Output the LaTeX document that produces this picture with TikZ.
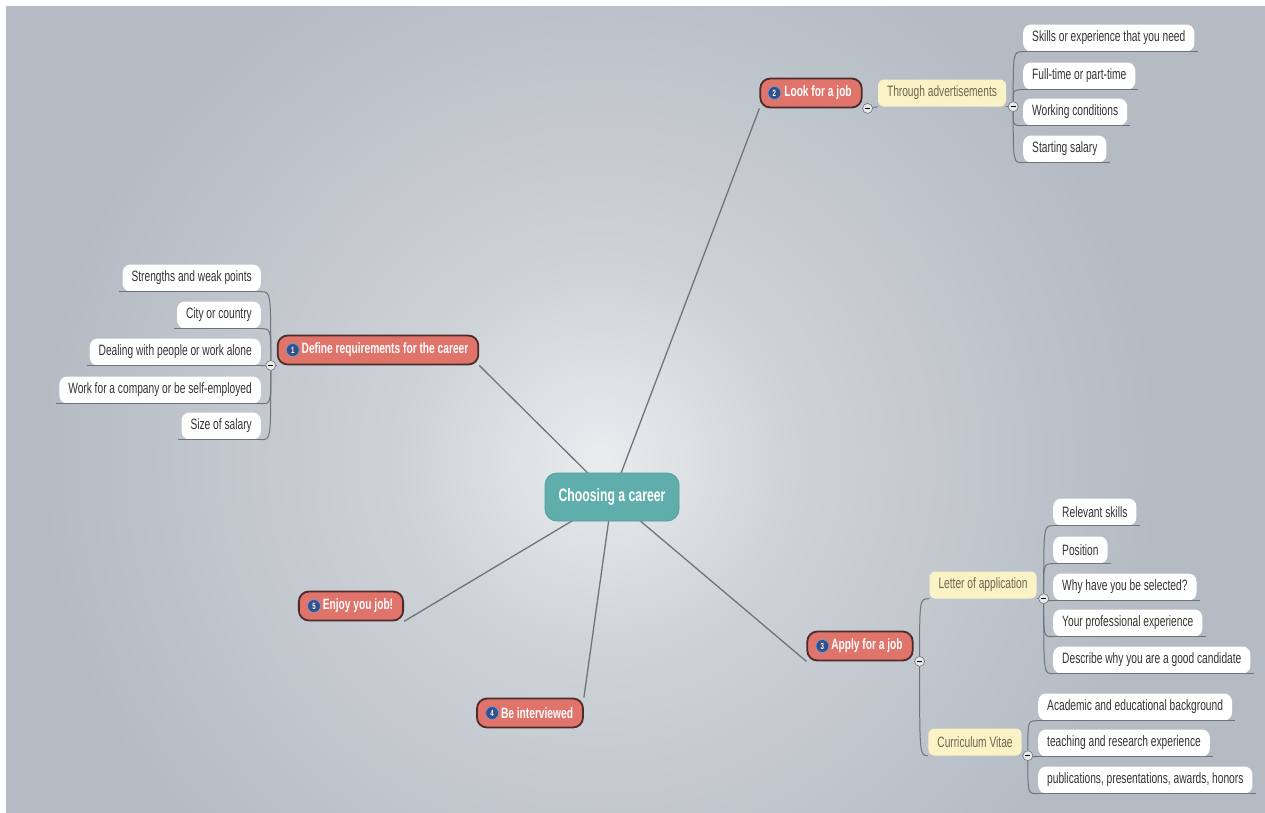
\documentclass[tikz,border=0pt]{standalone}
\usepackage{fontspec}
\setmainfont{Liberation Sans}[FakeStretch=0.68]
\usetikzlibrary{backgrounds,calc}
\definecolor{bg}{HTML}{B4BBC3}
\definecolor{bgmid}{HTML}{CDD2D7}
\definecolor{bglight}{HTML}{EAECEE}
\definecolor{mainfill}{HTML}{E0736A}
\definecolor{mainborder}{HTML}{4A2C2C}
\definecolor{centerfill}{HTML}{5FAEAB}
\definecolor{centerborder}{HTML}{4F9D9A}
\definecolor{yel}{HTML}{FBF2C6}
\definecolor{yeltext}{HTML}{6A6650}
\definecolor{leaftext}{HTML}{333333}
\definecolor{conn}{HTML}{6E747C}
\definecolor{badgefill}{HTML}{33508A}
\definecolor{badgering}{HTML}{7C97C8}
\definecolor{minusfill}{HTML}{E6E8EA}
\pgfdeclareradialshading{bgshade}{\pgfpoint{0bp}{0bp}}{color(0bp)=(bglight); color(9bp)=(bgmid); color(25bp)=(bg); color(50bp)=(bg)}
\begin{document}
\begin{tikzpicture}[x=1pt,y=-1pt,
  centernode/.style={draw=centerborder, line width=0.8pt, fill=centerfill, rounded corners=12pt,
    text=white, font=\bfseries\fontsize{18}{20}\selectfont, minimum width=134pt, minimum height=48pt},
  mainnode/.style={draw=mainborder, line width=1.8pt, fill=mainfill, rounded corners=10pt,
    text=white, font=\bfseries\fontsize{15}{17}\selectfont, minimum height=29pt, inner xsep=10pt, inner ysep=0pt},
  subnode/.style={fill=yel, rounded corners=6pt, text=yeltext, font=\fontsize{15}{17}\selectfont,
    minimum height=27pt, inner xsep=9pt, inner ysep=0pt},
  leaf/.style={fill=white, rounded corners=8pt, text=leaftext, font=\fontsize{15}{17}\selectfont,
    minimum height=27pt, inner xsep=9pt, inner ysep=0pt},
  bdg/.style={circle, fill=badgefill, draw=badgering, line width=0.8pt, minimum size=13pt, inner sep=0pt,
    text=white, font=\bfseries\fontsize{9}{9}\selectfont},
  mn/.style={circle, fill=minusfill, draw=conn, line width=0.6pt, minimum size=10pt, inner sep=0pt},
  mainconn/.style={draw=conn, line width=1.3pt},
  subconn/.style={draw=conn, line width=1pt},
  under/.style={draw=conn, line width=1pt}
]
\useasboundingbox (0,0) rectangle (1265,812);
\begin{scope}[on background layer]
  \fill[white] (0,0) rectangle (1265,812);
  \fill[bg] (6,6) rectangle (1266,813);
  \begin{scope}
    \clip (6,6) rectangle (1266,813);
    \shade[shading=bgshade] (600,460) circle (560);
  \end{scope}
\end{scope}

% central
\node[centernode] (c) at (612,497) {Choosing a career};

% 1 Define
\node[mainnode] (d) at (378,350) {\hspace*{14pt}Define requirements for the career};
\node[bdg] (d1) at ($(d.west)+(16,0)$) {1};
\node[mn] (dm) at ($(d.south west)+(-6,0)$) {\rule[-0.65pt]{5pt}{1.3pt}};
\node[leaf, anchor=east] (da) at (261,278) {Strengths and weak points};
\node[leaf, anchor=east] (db) at (261,315) {City or country};
\node[leaf, anchor=east] (dc) at (261,352) {Dealing with people or work alone};
\node[leaf, anchor=east] (dd) at (261,390) {Work for a company or be self-employed};
\node[leaf, anchor=east] (de) at (261,426) {Size of salary};

% 2 Look
\node[mainnode] (l) at (811,93) {\hspace*{14pt}Look for a job};
\node[bdg] (l1) at ($(l.west)+(15,0)$) {2};
\node[mn] (lm) at ($(l.south east)+(5,0)$) {\rule[-0.65pt]{5pt}{1.3pt}};
\node[subnode] (t) at (942,93) {Through advertisements};
\node[mn] (tm) at ($(t.south east)+(7,0)$) {\rule[-0.65pt]{5pt}{1.3pt}};
\node[leaf, anchor=west] (ta) at (1023,38) {Skills or experience that you need};
\node[leaf, anchor=west] (tb) at (1023,76) {Full-time or part-time};
\node[leaf, anchor=west] (tc) at (1023,112) {Working conditions};
\node[leaf, anchor=west] (td) at (1023,149) {Starting salary};

% 3 Apply
\node[mainnode] (a) at (860,646) {\hspace*{14pt}Apply for a job};
\node[bdg] (a1) at ($(a.west)+(16,0)$) {3};
\node[mn] (am) at ($(a.south east)+(6,0)$) {\rule[-0.65pt]{5pt}{1.3pt}};
\node[subnode] (la) at (983,585) {Letter of application};
\node[mn] (lam) at ($(la.south east)+(7,0)$) {\rule[-0.65pt]{5pt}{1.3pt}};
\node[subnode] (cv) at (975,742) {Curriculum Vitae};
\node[mn] (cvm) at ($(cv.south east)+(6,0)$) {\rule[-0.65pt]{5pt}{1.3pt}};
\node[leaf, anchor=west] (laa) at (1053,512) {Relevant skills};
\node[leaf, anchor=west] (lab) at (1053,550) {Position};
\node[leaf, anchor=west] (lac) at (1053,587) {Why have you be selected?};
\node[leaf, anchor=west] (lad) at (1053,623) {Your professional experience};
\node[leaf, anchor=west] (lae) at (1053,660) {Describe why you are a good candidate};
\node[leaf, anchor=west] (cva) at (1038,707) {Academic and educational background};
\node[leaf, anchor=west] (cvb) at (1038,743) {teaching and research experience};
\node[leaf, anchor=west] (cvc) at (1038,780) {publications, presentations, awards, honors};

% 4 Interviewed
\node[mainnode] (i) at (530,713) {\hspace*{14pt}Be interviewed};
\node[bdg] (i1) at ($(i.west)+(16,0)$) {4};

% 5 Enjoy
\node[mainnode] (e) at (351,606) {\hspace*{14pt}Enjoy you job!};
\node[bdg] (e1) at ($(e.west)+(16,0)$) {5};

% leaf underlines
\foreach \n in {ta,tb,tc,td,laa,lab,lac,lad,lae,cva,cvb,cvc}
  \draw[under] (\n.south west) -- ([xshift=3pt]\n.south east);
\foreach \n in {da,db,dc,dd,de}
  \draw[under] ([xshift=-3pt]\n.south west) -- (\n.south east);

\begin{scope}[on background layer]
  % main connectors
  \draw[mainconn] (c.center) -- (d.south east);
  \draw[mainconn] (c.center) -- (l.south west);
  \draw[mainconn] (c.center) -- (a.south west);
  \draw[mainconn] (c.center) -- (i.north east);
  \draw[mainconn] (c.center) -- (e.south east);
  % define branch
  \draw[subconn] (d.south west) -- (dm);
  \foreach \n in {da,db,dc,dd,de}
    \draw[subconn] (dm) .. controls (dm |- \n.south east) .. (\n.south east);
  % look branch
  \draw[subconn] (l.south east) -- (lm) -- (t.south west);
  \draw[subconn] (t.south east) -- (tm);
  \foreach \n in {ta,tb,tc,td}
    \draw[subconn] (tm) .. controls (tm |- \n.south west) .. (\n.south west);
  % apply branch
  \draw[subconn] (a.south east) -- (am);
  \draw[subconn] (am) .. controls (am |- la.south west) .. (la.south west);
  \draw[subconn] (am) .. controls (am |- cv.south west) .. (cv.south west);
  \draw[subconn] (la.south east) -- (lam);
  \foreach \n in {laa,lab,lac,lad,lae}
    \draw[subconn] (lam) .. controls (lam |- \n.south west) .. (\n.south west);
  \draw[subconn] (cv.south east) -- (cvm);
  \foreach \n in {cva,cvb,cvc}
    \draw[subconn] (cvm) .. controls (cvm |- \n.south west) .. (\n.south west);
\end{scope}
\end{tikzpicture}
\end{document}
